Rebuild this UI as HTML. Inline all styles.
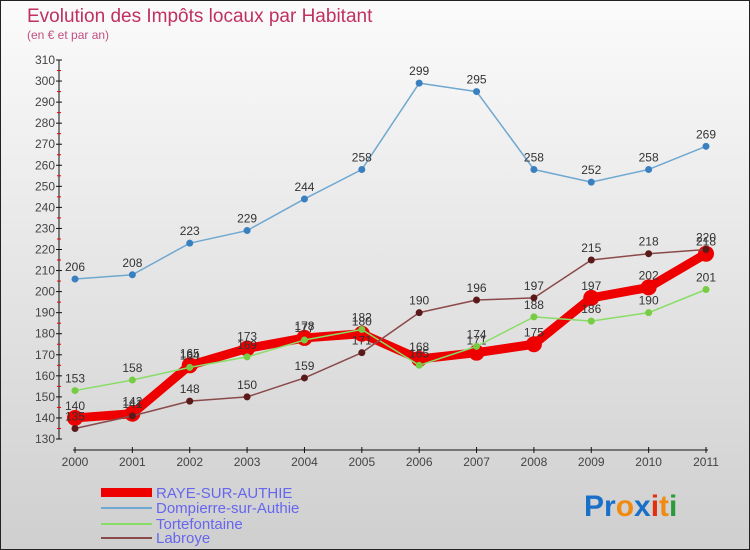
<!DOCTYPE html>
<html><head><meta charset="utf-8">
<style>
html,body{margin:0;padding:0}
body{width:750px;height:550px;overflow:hidden;font-family:"Liberation Sans",sans-serif}
#wrap{position:relative;width:748px;height:548px;border:1px solid #222;background:linear-gradient(#fbfbfb,#cfcfcf)}
svg{position:absolute;left:0;top:0}
</style></head><body>
<div id="wrap">
<svg id="chart" width="748" height="548">
<text x="26" y="21" font-size="19" fill="#c03060">Evolution des Impôts locaux par Habitant</text>
<text x="26" y="38" font-size="12" fill="#c05080">(en € et par an)</text>
<g id="axes"></g><g id="series"></g>
<g>
<rect x="100" y="487" width="51" height="9" fill="#ee0000"/>
<text x="155" y="497" font-size="15" fill="#6666ee">RAYE-SUR-AUTHIE</text>
<line x1="100" y1="507" x2="151" y2="507" stroke="#6fa8d0" stroke-width="2"/>
<text x="155" y="512" font-size="15" fill="#6666ee">Dompierre-sur-Authie</text>
<line x1="100" y1="523" x2="151" y2="523" stroke="#88dd66" stroke-width="2"/>
<text x="155" y="528" font-size="15" fill="#6666ee">Tortefontaine</text>
<line x1="100" y1="537" x2="151" y2="537" stroke="#8b4a4a" stroke-width="2"/>
<text x="155" y="542" font-size="15" fill="#6666ee">Labroye</text>
</g>
<text x="583" y="515" font-size="30" font-weight="bold"><tspan fill="#1a70c8">Pr</tspan><tspan fill="#2a9a3a" font-size="0"></tspan><tspan fill="#f08a10">o</tspan><tspan fill="#1a70c8">x</tspan><tspan fill="#e03010">i</tspan><tspan fill="#f08a10">t</tspan><tspan fill="#2a9a3a">i</tspan></text>
</svg>
</div>
<script>
const years=["2000","2001","2002","2003","2004","2005","2006","2007","2008","2009","2010","2011"];
const yTicks=[130,140,150,160,170,180,190,200,210,220,230,240,250,260,270,280,290,300,310];
const raye=[140,142,165,173,178,180,168,171,175,197,202,218];
const dompierre=[206,208,223,229,244,258,299,295,258,252,258,269];
const tortefontaine=[153,158,164,169,177,182,165,174,188,186,190,201];
const labroye=[135,141,148,150,159,171,190,196,197,215,218,220];
const NS="http://www.w3.org/2000/svg";
const X0=74,X1=705,Y0=438,Y1=59,VMIN=130,VMAX=310;
function xs(i){return X0+(X1-X0)*i/(years.length-1);}
function ys(v){return Y0-(v-VMIN)*(Y0-Y1)/(VMAX-VMIN);}
function mk(tag,attrs,parent){const e=document.createElementNS(NS,tag);for(const k in attrs)e.setAttribute(k,attrs[k]);parent.appendChild(e);return e;}
const ax=document.getElementById('axes');
let l=mk('line',{x1:58,y1:Y1,x2:58,y2:Y0,stroke:'#111'},ax);


l=mk('line',{x1:X0-2,y1:449,x2:X1+2,y2:449,stroke:'#111'},ax);


yTicks.forEach((v,i)=>{
  const y=ys(v);
  mk('line',{x1:55,y1:y,x2:61,y2:y,stroke:'#111'},ax);
  if(i<yTicks.length-1){mk('line',{x1:56,y1:y-(Y0-Y1)/36,x2:60,y2:y-(Y0-Y1)/36,stroke:'#e00'},ax);}
  const t=mk('text',{x:54,y:y+4,'font-size':12,fill:'#444','text-anchor':'end'},ax);
  t.textContent=v;
  
  
});
years.forEach((yr,i)=>{
  const x=xs(i);
  mk('line',{x1:x,y1:446,x2:x,y2:452,stroke:'#111'},ax);
  const t=mk('text',{x:x,y:465,'font-size':12,fill:'#444','text-anchor':'middle'},ax);
  t.textContent=yr;
  
  
});
const sg=document.getElementById('series');
function draw(data,name,color,w,r,dot){
  const g=mk('g',{},sg);
  
  
  const p=mk('polyline',{points:data.map((v,i)=>xs(i)+','+ys(v)).join(' '),fill:'none',stroke:color,'stroke-width':w,'stroke-linejoin':'round'},g);
  
  
  data.forEach((v,i)=>{
    const c=mk('circle',{cx:xs(i),cy:ys(v),r:r,fill:dot},g);
    
    
    const t=mk('text',{x:xs(i),y:ys(v)-8,'font-size':12,fill:'#333','text-anchor':'middle'},g);
    t.textContent=v;
    
    
  });
}
draw(dompierre,'dompierre','#6fa8d0',1.5,3.5,'#3a80c0');
draw(raye,'raye','#ee0000',9,8,'#ee0000');
draw(tortefontaine,'tortefontaine','#88dd66',1.5,3.5,'#77cc44');
draw(labroye,'labroye','#8b4a4a',1.5,3.5,'#5a1a1a');
</script>
</body></html>
